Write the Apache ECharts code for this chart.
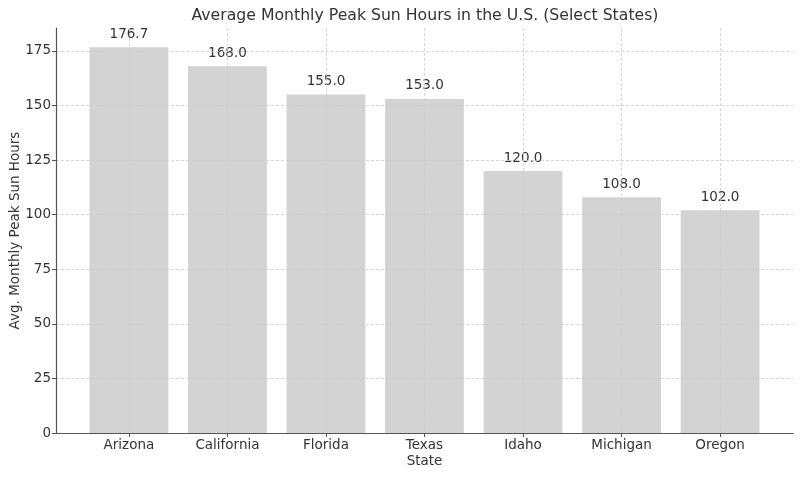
<!DOCTYPE html>
<html>
<head>
<meta charset="utf-8">
<script src="https://cdn.jsdelivr.net/npm/echarts@6/dist/echarts.min.js"></script>
<style>
  html, body { margin: 0; padding: 0; background: #fff; }
  #chart { width: 800px; height: 477px; }
</style>
</head>
<body>
<div id="chart"></div>
<script>
// 数据
const states = ['Arizona', 'California', 'Florida', 'Texas', 'Idaho', 'Michigan', 'Oregon'];
const sunHours = [176.7, 168.0, 155.0, 153.0, 120.0, 108.0, 102.0];
const yTicks = [0, 25, 50, 75, 100, 125, 150, 175];

const FONT = 'DejaVu Sans';
const textColor = '#333333';
const axisColor = '#555555';
const gridLine = { color: '#cccccc', width: 0.8, type: [3, 2] };

// x 轴按类别序号做数值轴，模拟 matplotlib 的两侧留白
const xIdx = states.map((s, i) => i);
const barData = sunHours.map((v, i) => [i, v]);

const chart = echarts.init(document.getElementById('chart'));

const option = {
    animation: false,
    textStyle: { fontFamily: FONT },
    title: {
        text: 'Average Monthly Peak Sun Hours in the U.S. (Select States)',
        left: 420,
        textAlign: 'center',
        top: 3,
        textStyle: { fontFamily: FONT, fontSize: 15.7, fontWeight: 'normal', color: textColor }
    },
    grid: { left: 56, right: 7, top: 28, bottom: 44, outerBoundsMode: 'none', containLabel: false },
    xAxis: {
        type: 'value',
        min: -0.74,
        max: 6.74,
        z: 3,
        name: 'State',
        nameLocation: 'middle',
        nameGap: 21,
        nameMoveOverlap: false,
        nameTextStyle: { fontFamily: FONT, fontSize: 13.5, color: textColor },
        axisLine: { show: true, onZero: false, lineStyle: { color: axisColor, width: 1.2 } },
        axisTick: { show: true, length: 4, customValues: xIdx, lineStyle: { color: axisColor } },
        axisLabel: {
            customValues: xIdx,
            margin: 5,
            fontFamily: FONT,
            fontSize: 13.5,
            color: textColor,
            formatter: v => states[Math.round(v)]
        },
        splitLine: { show: true, lineStyle: gridLine }
    },
    yAxis: {
        type: 'value',
        min: 0,
        max: 185.5,
        z: 3,
        name: 'Avg. Monthly Peak Sun Hours',
        nameLocation: 'middle',
        nameGap: 34,
        nameMoveOverlap: false,
        nameTextStyle: { fontFamily: FONT, fontSize: 13.5, color: textColor },
        axisLine: { show: true, onZero: false, lineStyle: { color: axisColor, width: 1.2 } },
        axisTick: { show: true, length: 4, customValues: yTicks, lineStyle: { color: axisColor } },
        axisLabel: { customValues: yTicks, margin: 5, fontFamily: FONT, fontSize: 13.5, color: textColor },
        splitLine: { show: true, lineStyle: gridLine }
    },
    series: [
        {
            type: 'bar',
            data: barData,
            barWidth: 78.8,
            itemStyle: { color: '#d3d3d3' },
            label: {
                show: true,
                position: 'top',
                distance: 6,
                fontFamily: FONT,
                fontSize: 13.5,
                color: textColor,
                formatter: p => p.value[1].toFixed(1)
            }
        }
    ]
};

chart.setOption(option);
</script>
</body>
</html>
